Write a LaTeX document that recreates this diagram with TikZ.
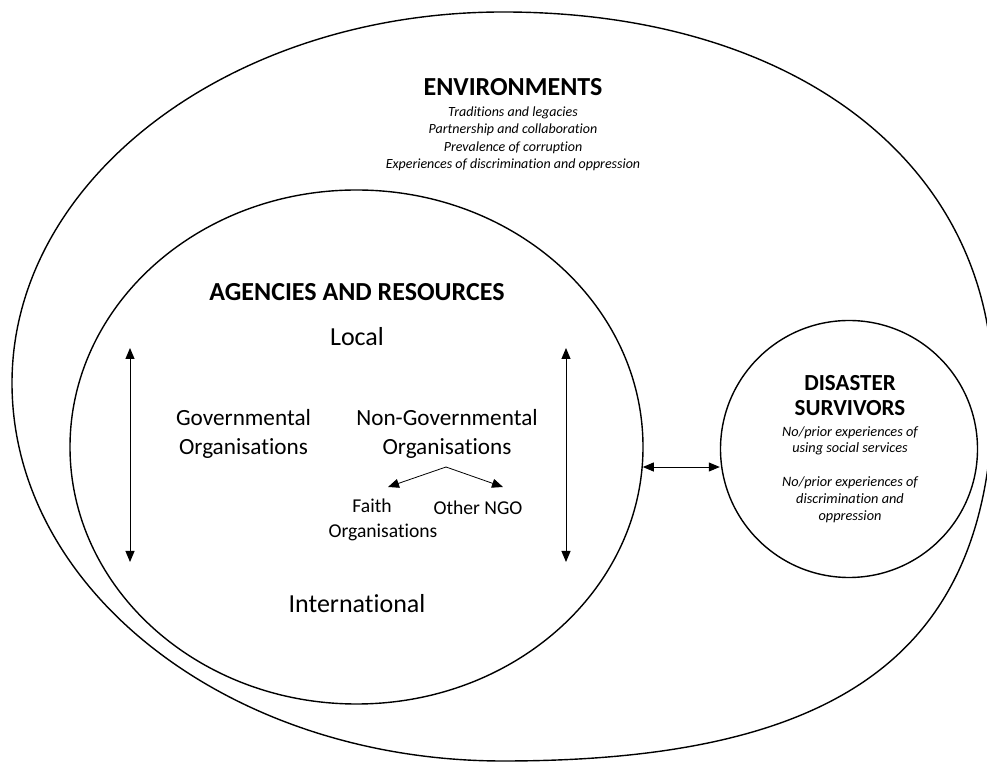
\documentclass[tikz,border=0pt]{standalone}
\usepackage{fontspec}
\setmainfont{Carlito}[Ligatures=NoCommon]
\usetikzlibrary{shapes, arrows.meta, calc, positioning}
\newcommand{\fsize}[2]{\fontsize{#1}{#2}\selectfont}

\begin{document}
\begin{tikzpicture}[x=1pt, y=1pt,
	ring/.style={draw, line width=1.4pt, inner sep=0pt},
	twoway/.style={{Triangle[length=11pt,width=9pt]}-{Triangle[length=11pt,width=9pt]}, line width=1pt},
	branch/.style={-{Triangle[length=11pt,width=9pt]}, line width=0.8pt},
	lbl/.style={inner sep=0pt, align=center}]
	\useasboundingbox (0,0) rectangle (987,762);
		% environments (egg shaped, bulging to the lower right)
		\draw[ring] (12,379) .. controls (12,584) and (232,750) .. (503,750)
			.. controls (795,750) and (993,599) .. (993,372)
			.. controls (993,112) and (844,1) .. (503,1)
			.. controls (232,1) and (12,170) .. cycle;
		% agencies and survivors
		\node[ring, ellipse, minimum width=573, minimum height=514] (agencies) at (356.5,315) {};
		\node[ring, circle, minimum size=257] (survivors) at (849,313) {};
		% environments
		\node[lbl, font=\fsize{26}{28}\bfseries] (envtitle) at (513,675) {ENVIRONMENTS};
		\node[lbl, font=\fsize{14}{17.5}\itshape] (envlist) at (513,623) {Traditions and legacies\\ Partnership and collaboration\\ Prevalence of corruption\\ Experiences of discrimination and oppression};
		% agencies and resources
		\node[lbl, font=\fsize{26}{28}\bfseries] (agtitle) at (357,470) {AGENCIES AND RESOURCES};
		\node[lbl, font=\fsize{26}{28}] (local) at (357,425) {Local};
		\node[lbl, font=\fsize{26}{28}] (intl) at (357,158) {International};
		\node[lbl, font=\fsize{23.2}{29}] (gov) at (243.5,328.5) {Governmental\\ Organisations};
		\node[lbl, font=\fsize{23.2}{29}] (ngo) at (447,328.5) {Non-Governmental\\ Organisations};
		\node[lbl, font=\fsize{19.6}{25}] (faith) at (383,242) {Faith\hspace*{22pt}\\ Organisations};
		\node[lbl, font=\fsize{19.6}{25}] (other) at (478,254.5) {Other NGO};
		% disaster survivors
		\node[lbl, font=\fsize{23}{25}\bfseries] (survtitle) at (850,366.5) {DISASTER\\ SURVIVORS};
		\node[lbl, font=\fsize{14.3}{16}\itshape] (usage) at (850,321.5) {No/prior experiences of\\ using social services};
		\node[lbl, font=\fsize{14.3}{17}\itshape] (discr) at (850,262) {No/prior experiences of\\ discrimination and\\ oppression};
		% local / international scale
		\coordinate (lt) at (130,414);
		\coordinate (lb) at (130,200);
		\coordinate (rt) at (566,414);
		\coordinate (rb) at (566,200);
		\draw[twoway] (lt) -- (lb);
		\draw[twoway] (rt) -- (rb);
		% ngo types
		\coordinate (apex) at (446,295);
		\coordinate (fa) at (388,275);
		\coordinate (oa) at (503,275);
		\draw[branch] (apex) -- (fa);
		\draw[branch] (apex) -- (oa);
		% agencies <-> survivors
		\draw[twoway] (agencies.-4) -- (survivors.west |- agencies.-4);
\end{tikzpicture}
\end{document}
